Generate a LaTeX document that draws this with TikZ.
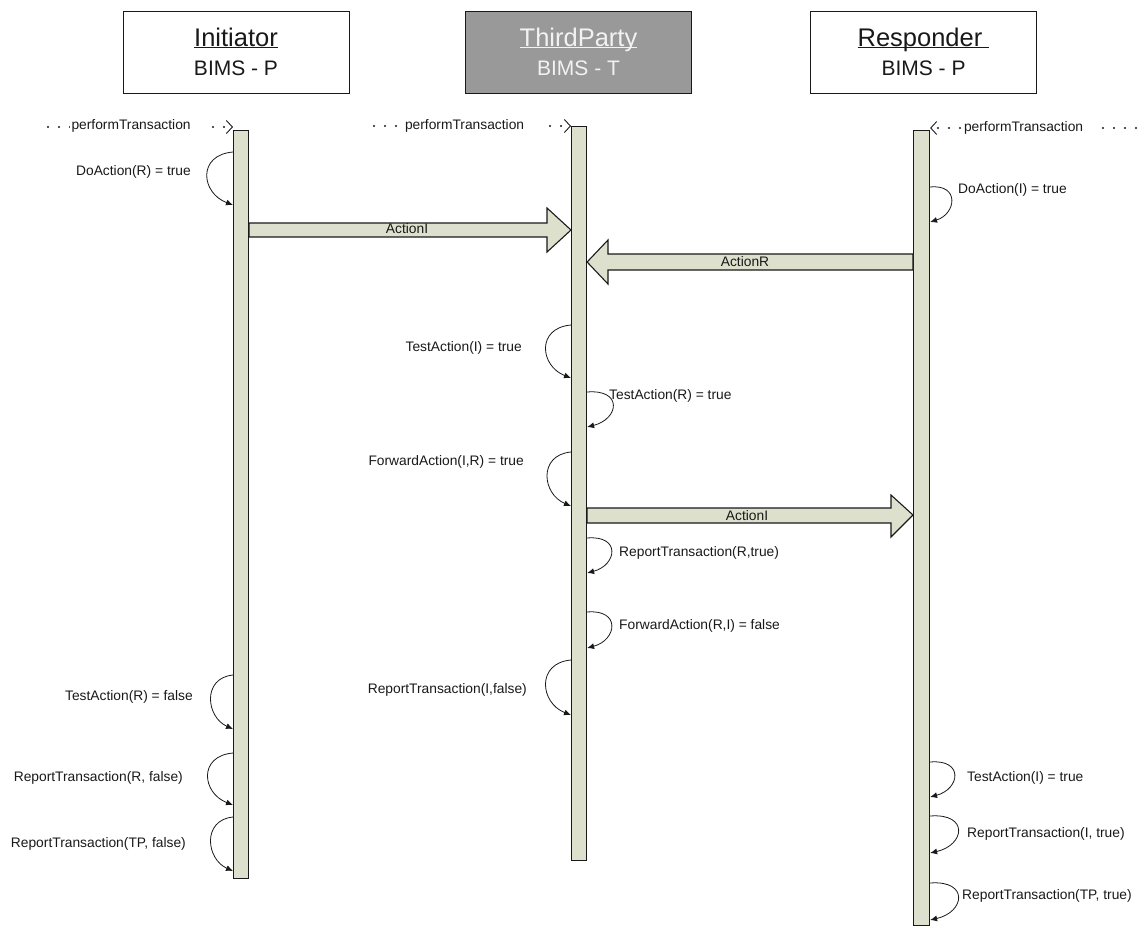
\documentclass[tikz,border=0pt]{standalone}
\usepackage{fontspec}
\setmainfont{Liberation Sans}
\usetikzlibrary{arrows.meta}

\definecolor{barfill}{RGB}{221,224,204}
\definecolor{tpfill}{RGB}{153,153,153}
\definecolor{tptext}{RGB}{242,242,242}
\definecolor{ink}{RGB}{25,25,25}

% underline with a fixed offset below the baseline
\newcommand\myul[1]{\setbox0\hbox{#1}\rlap{\rule[-2.4pt]{\wd0}{1.1pt}}\box0}
% self-call loops on the left / right side of an activation bar
\newcommand\callL[4]{\draw[selfcall] (#1.west |- 0,#2) .. controls +(-#4,3) and +(-#4+4,-12) .. (#1.west |- 0,#3);}
\newcommand\callR[4]{\draw[selfcall] (#1.east |- 0,#2) .. controls +(#4,-3) and +(#4-4,-8) .. (#1.east |- 0,#3);}

\tikzset{
  hdr/.style={draw=ink, line width=1pt, fill=white, rectangle, inner sep=0pt,
              minimum width=226pt, minimum height=82pt},
  ttl/.style={inner sep=0pt, anchor=base, font=\fontsize{25.5}{30}\selectfont, text=ink},
  sub/.style={inner sep=0pt, anchor=base, font=\fontsize{21}{25}\selectfont, text=ink},
  lifebar/.style={draw=ink, line width=1.1pt, fill=barfill, rectangle, inner sep=0pt,
                  anchor=north west},
  lbl/.style={inner sep=0pt, font=\fontsize{13.8}{16}\selectfont, text=ink},
  calllbl/.style={lbl, fill=white, inner ysep=2pt, align=left},
  selfcall/.style={draw=ink, line width=0.8pt, -{Latex[length=7pt,width=6pt]}},
  calldots/.style={draw=ink, line width=2.2pt, line cap=round, dash pattern=on 0pt off 11pt,
                   -{Straight Barb[length=6pt,width=13pt,line width=0.9pt]}},
  blockarrow/.style={draw=ink, line width=1.1pt, fill=barfill, line join=miter},
}

\begin{document}
\begin{tikzpicture}[x=1pt,y=-1pt]
\useasboundingbox (0,0) rectangle (1142,927);

% participant headers
\node[hdr] (hI) at (236,52) {};
\node[hdr, fill=tpfill] (hT) at (578.5,52) {};
\node[hdr] (hR) at (923.5,52) {};
\node[ttl] (tI) at (236,46) {\myul{Initiator}};
\node[sub] (sI) at (236,75) {BIMS - P};
\node[ttl, text=tptext] (tT) at (578.5,46) {\myul{ThirdParty}};
\node[sub, text=tptext] (sT) at (578.5,75) {BIMS - T};
\node[ttl] (tR) at (923.5,46) {\myul{Responder\ }};
\node[sub] (sR) at (923.5,75) {BIMS - P};

% activation bars
\node[lifebar, minimum width=15pt, minimum height=748pt] (barI) at (233,130) {};
\node[lifebar, minimum width=15pt, minimum height=734pt] (barT) at (571,126) {};
\node[lifebar, minimum width=16pt, minimum height=795pt] (barR) at (913,130) {};

% incoming performTransaction calls
\coordinate (inI) at (48,127);
\draw[calldots] (inI) -- (barI.west |- 0,127);
\node[calllbl, text width=134pt, inner xsep=1.5pt] (pI) at (138.5,126) {performTransaction};
\coordinate (inT) at (374,126);
\draw[calldots] (inT) -- (barT.west |- 0,126);
\node[calllbl, text width=139pt, inner xsep=2pt] (pT) at (474.5,126) {performTransaction};
\coordinate (inR) at (1136,128);
\draw[calldots] (inR) -- (barR.east |- 0,128);
\node[calllbl, text width=132pt, inner xsep=1pt] (pR) at (1030,128) {performTransaction};

% messages between participants
\draw[blockarrow] (barI.east |- 0,223) -- (547,223) -- (547,208) -- (barT.west |- 0,230)
  -- (547,252) -- (547,237) -- (barI.east |- 0,237) -- cycle;
\node[lbl] (mI1) at (407,229) {ActionI};
\draw[blockarrow] (barR.west |- 0,254) -- (608,254) -- (608,240) -- (barT.east |- 0,262)
  -- (608,284) -- (608,270) -- (barR.west |- 0,270) -- cycle;
\node[lbl] (mR) at (745,262) {ActionR};
\draw[blockarrow] (barT.east |- 0,508) -- (891,508) -- (891,495) -- (barR.west |- 0,515)
  -- (891,537) -- (891,523) -- (barT.east |- 0,523) -- cycle;
\node[lbl] (mI2) at (747,516) {ActionI};

% Initiator self-calls
\callL{barI}{152}{205}{36}
\node[lbl, anchor=east] (c1) at (191,172) {DoAction(R) = true};
\callL{barI}{675}{729}{31}
\node[lbl, anchor=east] (c2) at (193,697) {TestAction(R) = false};
\callL{barI}{753}{805}{35}
\node[lbl, anchor=east] (c3) at (183,778) {ReportTransaction(R, false)};
\callL{barI}{817}{871}{31}
\node[lbl, anchor=east] (c4) at (186,844) {ReportTransaction(TP, false)};

% ThirdParty self-calls
\callL{barT}{325}{378}{35}
\node[lbl, anchor=east] (c5) at (522,348) {TestAction(I) = true};
\callR{barT}{392}{427}{36}
\node[lbl, anchor=west] (c6) at (609,396) {TestAction(R) = true};
\callL{barT}{452}{506}{33}
\node[lbl, anchor=east] (c7) at (524,462) {ForwardAction(I,R) = true};
\callR{barT}{538}{573}{34}
\node[lbl, anchor=west] (c8) at (619,553) {ReportTransaction(R,true)};
\callR{barT}{612}{648}{34}
\node[lbl, anchor=west] (c9) at (619,626) {ForwardAction(R,I) = false};
\callL{barT}{660}{715}{35}
\node[lbl, anchor=east] (c10) at (527,690) {ReportTransaction(I,false)};

% Responder self-calls
\callR{barR}{187}{222}{30}
\node[lbl, anchor=west] (c11) at (958,190) {DoAction(I) = true};
\callR{barR}{762}{797}{34}
\node[lbl, anchor=west] (c12) at (967,778) {TestAction(I) = true};
\callR{barR}{816}{853}{39}
\node[lbl, anchor=west] (c13) at (967,834) {ReportTransaction(I, true)};
\callR{barR}{883}{920}{39}
\node[lbl, anchor=west] (c14) at (962,896) {ReportTransaction(TP, true)};
\end{tikzpicture}
\end{document}
